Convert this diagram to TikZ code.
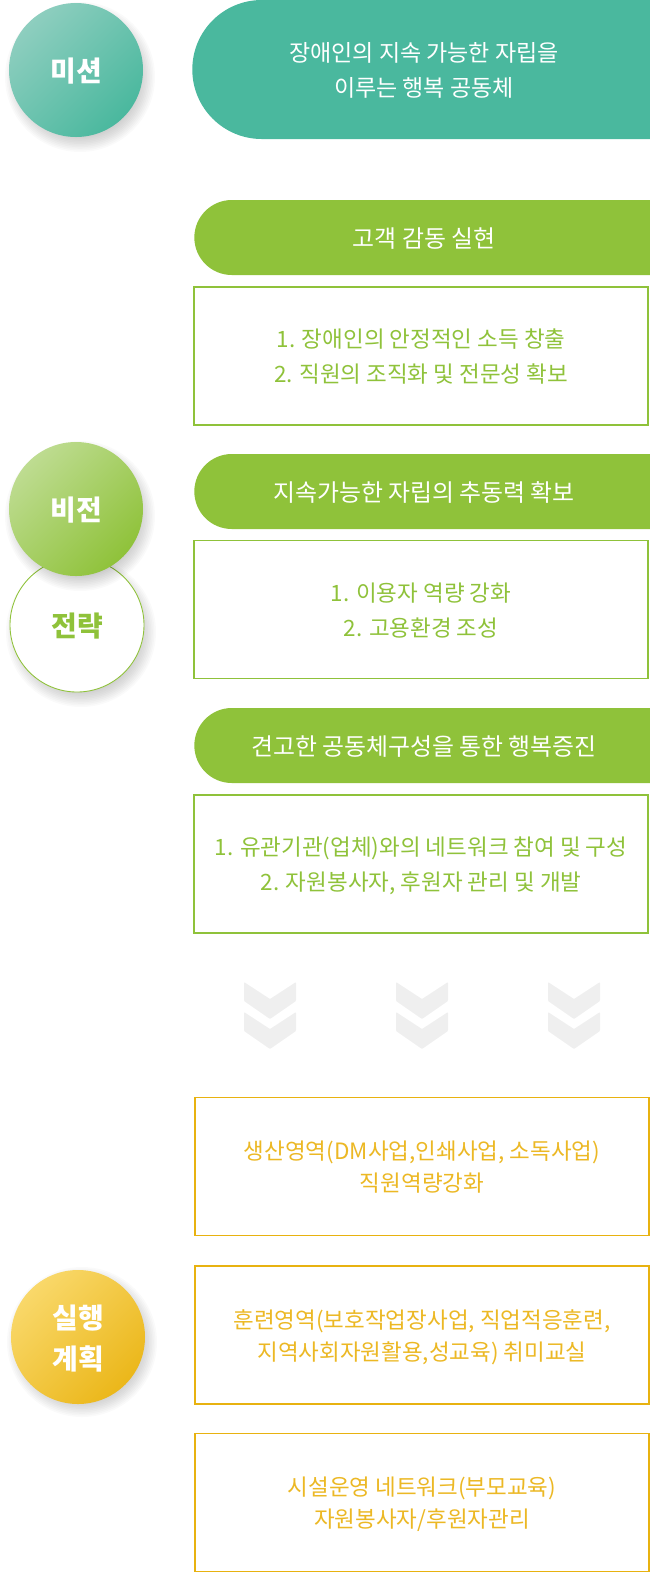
\documentclass[tikz,border=0pt]{standalone}
\usepackage{fontspec}
\setmainfont{Noto Sans CJK KR}
\usetikzlibrary{shapes.misc}
\definecolor{TealMain}{RGB}{74,184,158}
\definecolor{TealLight}{RGB}{142,206,191}
\definecolor{LeafGreen}{RGB}{143,194,58}
\definecolor{LeafLight}{RGB}{190,220,145}
\definecolor{GoldLine}{RGB}{232,178,16}
\definecolor{GoldText}{RGB}{236,184,36}
\definecolor{GoldLight}{RGB}{249,216,106}
\definecolor{GoldDark}{RGB}{235,183,26}
\definecolor{ChevronGray}{RGB}{239,239,239}
\tikzset{
  pill/.style={rounded rectangle,rounded rectangle right arc=none,fill=LeafGreen,
    text=white,minimum width=9.16cm,minimum height=1.5cm,inner sep=0pt,
    align=center,text depth=-3pt,font=\fontsize{13.6}{19.8}\selectfont},
  goalbox/.style={draw=LeafGreen,line width=0.6pt,fill=white,minimum width=9.08cm,
    minimum height=2.76cm,inner sep=0pt,text=LeafGreen,align=center,
    text depth=-3pt,font=\fontsize{12.8}{19.8}\selectfont},
  planbox/.style={goalbox,draw=GoldLine,text=GoldText,
    font=\fontsize{12.8}{18.4}\selectfont},
  badge/.style={circle,minimum size=2.68cm,inner sep=0pt,text=white,align=center,
    text depth=-2pt,font=\bfseries\fontsize{15.9}{23.5}\selectfont},
  chevron/.style={fill=ChevronGray,rounded corners=0.5pt}
}

\begin{document}
\begin{tikzpicture}[x=0.2mm,y=-0.2mm]
  \useasboundingbox (0,0) rectangle (650,1573);

  % soft shadows under the round badges
  \foreach \cx/\cy in {76/70,77/625,78/1335}{
    \foreach \r in {0,...,9}
      \fill[black,opacity=0.018] (\cx+4,\cy+7) circle[radius=75-\r*1.6];
  }

  % mission
  \node[badge,shading=axis,top color=TealLight,bottom color=TealMain,shading angle=45]
    (mission) at (76,70) {미션};
  \node[pill,fill=TealMain,minimum height=2.78cm,font=\fontsize{13.1}{19.8}\selectfont]
    (missiontext) at (424,69.5) {장애인의 지속 가능한 자립을\\이루는 행복 공동체};

  % vision and strategy
  \node[badge,draw=LeafGreen,line width=0.5pt,fill=white,text=LeafGreen]
    (strategy) at (77,625) {전략};
  \foreach \r in {0,...,9}
    \fill[black,opacity=0.018] (80,516) circle[radius=75-\r*1.6];
  \node[badge,shading=axis,top color=LeafLight,bottom color=LeafGreen,shading angle=45]
    (vision) at (76,509) {비전};

  \node[pill] (goalA) at (424,237.5) {고객 감동 실현};
  \node[goalbox] (boxA) at (421,356) {1. 장애인의 안정적인 소득 창출\\2. 직원의 조직화 및 전문성 확보};
  \node[pill] (goalB) at (424,491.5) {지속가능한 자립의 추동력 확보};
  \node[goalbox] (boxB) at (421,609.5) {1. 이용자 역량 강화\\2. 고용환경 조성};
  \node[pill] (goalC) at (424,745.5) {견고한 공동체구성을 통한 행복증진};
  \node[goalbox] (boxC) at (421,864) {1. 유관기관(업체)와의 네트워크 참여 및 구성\\2. 자원봉사자, 후원자 관리 및 개발};

  % chevrons
  \foreach \cx in {270,422,574}{
    \foreach \t in {982,1012}
      \fill[chevron] (\cx-26,\t) -- (\cx,\t+17) -- (\cx+26,\t) -- (\cx+26,\t+19)
        -- (\cx,\t+37) -- (\cx-26,\t+19) -- cycle;
  }

  % action plan
  \node[badge,shading=axis,top color=GoldLight,bottom color=GoldDark,shading angle=45]
    (plan) at (78,1337) {실행\\계획};
  \node[planbox] (planA) at (422,1166.5) {생산영역(DM사업,인쇄사업, 소독사업)\\직원역량강화};
  \node[planbox] (planB) at (422,1335) {훈련영역(보호작업장사업, 직업적응훈련,\\지역사회자원활용,성교육) 취미교실};
  \node[planbox] (planC) at (422,1502.5) {시설운영 네트워크(부모교육)\\자원봉사자/후원자관리};
\end{tikzpicture}
\end{document}
